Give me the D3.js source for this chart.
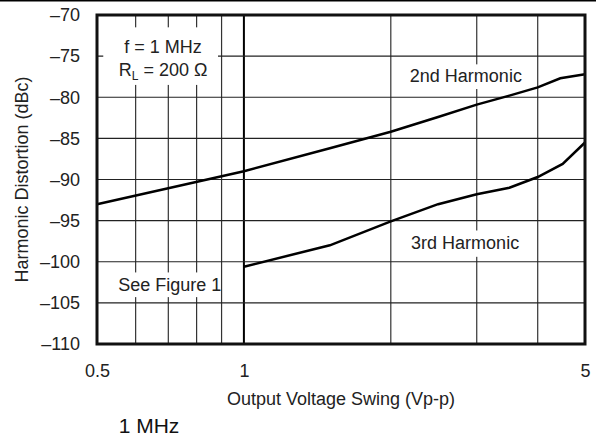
<!DOCTYPE html>
<html>
<head>
<meta charset="utf-8">
<script src="https://cdn.jsdelivr.net/npm/d3@7"></script>
<style>
  body { margin: 0; background: #fff; }
  svg { display: block; font-family: "Liberation Sans", Arial, sans-serif; }
</style>
</head>
<body>
<div id="chart"></div>
<script>
// Curve values (x in Vp-p, y in dBc)
const swing2 = [0.5, 1, 1.5, 2, 2.5, 3, 3.5, 4, 4.45, 5];
const dist2 = [-93, -89, -86.2, -84.2, -82.4, -80.9, -79.8, -78.8, -77.7, -77.2];
const swing3 = [1, 1.5, 2, 2.5, 3, 3.5, 4, 4.5, 5];
const dist3 = [-100.6, -98, -95.1, -93, -91.8, -91, -89.7, -88.1, -85.5];

const xTicks = [0.5, 1, 5];
const xGrid = [0.6, 0.7, 0.8, 0.9, 1, 2, 3, 4];
const yTicks = [-110, -105, -100, -95, -90, -85, -80, -75, -70];

const width = 596;
const height = 438;
const margin = { top: 15, right: 11, bottom: 94, left: 97 };

const svg = d3.select('#chart')
    .append('svg')
    .attr('width', width)
    .attr('height', height);

const x = d3.scaleLog()
    .domain([0.5, 5])
    .range([margin.left, width - margin.right]);

const y = d3.scaleLinear()
    .domain([-110, -70])
    .range([height - margin.bottom, margin.top]);

// rule across the top of the page
svg.append('line')
    .attr('x1', 0).attr('x2', width)
    .attr('y1', 0.75).attr('y2', 0.75)
    .attr('stroke', '#000')
    .attr('stroke-width', 1.5);

// gridlines
const grid = svg.append('g');
grid.selectAll('.vg')
    .data(xGrid)
    .join('line')
    .attr('x1', (d) => x(d)).attr('x2', (d) => x(d))
    .attr('y1', y(-110)).attr('y2', y(-70))
    .attr('stroke', (d) => d === 1 ? '#000' : '#333')
    .attr('stroke-width', (d) => d === 1 ? 2 : 1.2);

grid.selectAll('.hg')
    .data(yTicks)
    .join('line')
    .attr('x1', x(0.5)).attr('x2', x(5))
    .attr('y1', (d) => y(d)).attr('y2', (d) => y(d))
    .attr('stroke', '#222')
    .attr('stroke-width', 1.2);

// label boxes (white, knocking out the grid)
const boxes = [
    { x0: 0.515, x1: 0.885, y0: -71.5, y1: -78.5 },
    { x0: 2.45, x1: 3.3, y0: -76.0, y1: -79.0 },
    { x0: 2.45, x1: 3.3, y0: -96.2, y1: -99.4 },
    { x0: 0.515, x1: 0.885, y0: -101.3, y1: -104.3 }
];
svg.append('g').selectAll('rect')
    .data(boxes)
    .join('rect')
    .attr('x', (d) => x(d.x0))
    .attr('y', (d) => y(d.y0))
    .attr('width', (d) => x(d.x1) - x(d.x0))
    .attr('height', (d) => y(d.y1) - y(d.y0))
    .attr('fill', '#fff');

const labelFont = 18;

const notes = svg.append('g')
    .attr('font-size', labelFont)
    .attr('fill', '#222')
    .attr('text-anchor', 'middle');

notes.append('text')
    .attr('x', x(0.683)).attr('y', y(-73.9))
    .attr('dy', '0.35em')
    .text('f = 1 MHz');

const rl = notes.append('text')
    .attr('x', x(0.683)).attr('y', y(-76.7))
    .attr('dy', '0.35em');
rl.append('tspan').text('R');
rl.append('tspan').attr('font-size', 12).attr('dy', 4).text('L');
rl.append('tspan').attr('dy', -4).text(' = 200 Ω');

notes.append('text')
    .attr('x', x(2.85)).attr('y', y(-77.4))
    .attr('dy', '0.35em')
    .text('2nd Harmonic');

notes.append('text')
    .attr('x', x(2.84)).attr('y', y(-97.7))
    .attr('dy', '0.35em')
    .text('3rd Harmonic');

notes.append('text')
    .attr('x', x(0.705)).attr('y', y(-102.85))
    .attr('dy', '0.35em')
    .text('See Figure 1');

// curves
const line = d3.line()
    .x((d) => x(d[0]))
    .y((d) => y(d[1]));

const curves = [d3.zip(swing2, dist2), d3.zip(swing3, dist3)];
svg.append('g').selectAll('path')
    .data(curves)
    .join('path')
    .attr('d', line)
    .attr('fill', 'none')
    .attr('stroke', '#000')
    .attr('stroke-width', 2.5);

// frame
svg.append('rect')
    .attr('x', x(0.5)).attr('y', y(-70))
    .attr('width', x(5) - x(0.5))
    .attr('height', y(-110) - y(-70))
    .attr('fill', 'none')
    .attr('stroke', '#111')
    .attr('stroke-width', 3);

// axes (labels only)
const yAxis = d3.axisLeft(y)
    .tickValues(yTicks)
    .tickSize(0)
    .tickPadding(17)
    .tickFormat((d) => String(d).replace('-', '\u2013'));

svg.append('g')
    .attr('transform', `translate(${margin.left}, 0)`)
    .call(yAxis)
    .call((g) => g.select('.domain').remove())
    .selectAll('text')
    .attr('font-size', labelFont)
    .attr('font-family', '"Liberation Sans", Arial, sans-serif')
    .attr('fill', '#222');

const xAxis = d3.axisBottom(x)
    .tickValues(xTicks)
    .tickSize(0)
    .tickPadding(20)
    .tickFormat((d) => String(d));

svg.append('g')
    .attr('transform', `translate(0, ${height - margin.bottom})`)
    .call(xAxis)
    .call((g) => g.select('.domain').remove())
    .selectAll('text')
    .attr('font-size', labelFont)
    .attr('font-family', '"Liberation Sans", Arial, sans-serif')
    .attr('fill', '#222');

// axis titles
svg.append('text')
    .attr('x', (x(0.5) + x(5)) / 2)
    .attr('y', 399)
    .attr('dy', '0.35em')
    .attr('text-anchor', 'middle')
    .attr('font-size', labelFont)
    .attr('fill', '#222')
    .text('Output Voltage Swing (Vp-p)');

svg.append('text')
    .attr('transform', `translate(22, ${(y(-70) + y(-110)) / 2}) rotate(-90)`)
    .attr('dy', '0.35em')
    .attr('text-anchor', 'middle')
    .attr('font-size', labelFont)
    .attr('fill', '#222')
    .text('Harmonic Distortion (dBc)');

// caption
svg.append('text')
    .attr('x', 149)
    .attr('y', 426)
    .attr('dy', '0.35em')
    .attr('text-anchor', 'middle')
    .attr('font-size', 21)
    .attr('fill', '#111')
    .text('1 MHz');
</script>
</body>
</html>
